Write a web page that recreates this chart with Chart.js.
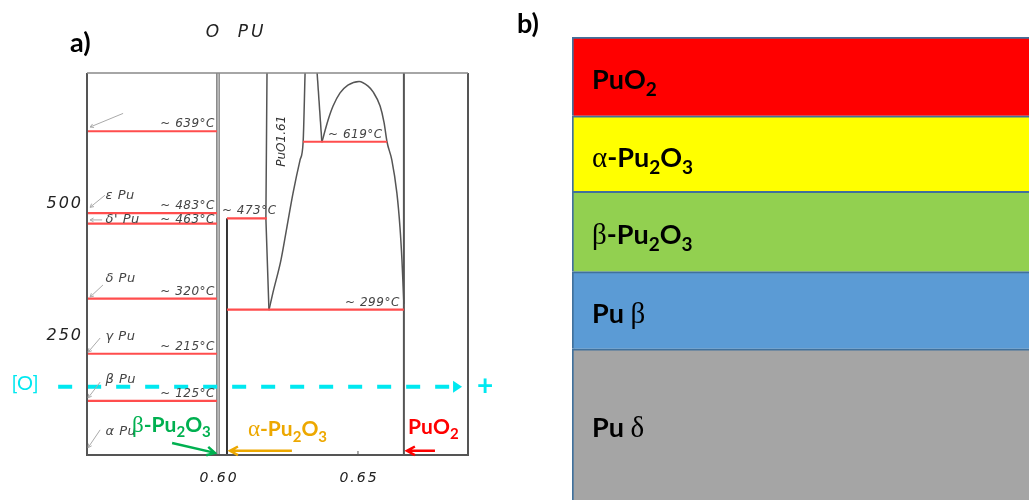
<!DOCTYPE html>
<html>
<head>
<meta charset="utf-8">
<script src="https://cdn.jsdelivr.net/npm/chart.js@4.4.1/dist/chart.umd.min.js"></script>
<style>
    html, body { margin: 0; padding: 0; background: #fff; overflow: hidden; width: 1029px; height: 500px; }
    #phaseWrap { position: absolute; left: 0; top: 0; width: 500px; height: 500px; }
    #layerWrap { position: absolute; left: 500px; top: 0; width: 560px; height: 500px; }
</style>
</head>
<body>
<div id="phaseWrap"><canvas id="phaseChart"></canvas></div>
<div id="layerWrap"><canvas id="layerChart"></canvas></div>
<script>
// ---- a) Pu-O phase diagram (x = O fraction, y = temperature in °C) ----
const compTicks = [0.60, 0.65];
const tempTicks = [250, 500];

// transitions of pure Pu
const puTransitions = [639, 483, 463, 320, 215, 125];
const puTransitionLabels = ['~ 639°C', '~ 483°C', '~ 463°C', '~ 320°C', '~ 215°C', '~ 125°C'];
const puPhases = ['ε Pu', "δ' Pu", 'δ Pu', 'γ Pu', 'β Pu', 'α Pu'];
const puPhaseTemps = [517, 470, 359, 247, 165, 66];

// oxide isotherms
const oxideTemps = [473, 619, 299];
const oxideLabels = ['~ 473°C', '~ 619°C', '~ 299°C'];
const oxideFrom = [0.6032, 0.6304, 0.6032];
const oxideTo = [0.6175, 0.6604, 0.6664];

// phase boundaries
const pu2o3Comp = 0.6;
const puo152Comp = 0.6032;
const puo2Comp = 0.6664;
const vLeftX = [0.6175, 0.6171, 0.6182];
const vLeftT = [750, 473, 298];
const vRightX = [0.6311, 0.6304, 0.6293, 0.6268, 0.6246, 0.6225, 0.6196, 0.6182];
const vRightT = [750, 618, 584, 521, 456, 394, 331, 298];
const cuspX = [0.6354, 0.6371];
const cuspT = [750, 618];
const domeX = [0.6371, 0.6393, 0.6411, 0.6436, 0.6464, 0.6504, 0.6536, 0.6554, 0.6579, 0.6593, 0.6604, 0.6621, 0.6639, 0.6650, 0.6657, 0.6664];
const domeT = [618, 660, 687, 712, 727, 734, 725, 714, 687, 656, 618, 584, 521, 456, 394, 310];

// oxygen path
const oxygenT = 152;
const oxygenFrom = 0.5429;
const oxygenTo = 0.6836;

// ---- b) layer stack (bottom to top) ----
const layerNames = ['Pu δ', 'Pu β', 'β-Pu₂O₃', 'α-Pu₂O₃', 'PuO₂'];
const layerThickness = [1.94, 0.99, 1.03, 0.97, 1.01];
const layerColors = ['#A5A5A5', '#5B9BD5', '#92D050', '#FFFF00', '#FF0000'];

const xMin = 0.5532, xMax = 0.6893, tMin = 22, tMax = 750;
const HAND = '"DejaVu Sans"';

function toPoints(xs, ts) {
    return xs.map((x, i) => ({ x, y: ts[i] }));
}

function seg(points, color, width, extra = {}) {
    return Object.assign({
        data: points, showLine: true, borderColor: color, borderWidth: width,
        pointRadius: 0, fill: false, tension: 0
    }, extra);
}

// text with greek letters in a serif face and subscript digits
function drawRich(ctx, text, x, y, size, color) {
    const subs = { '₂': '2', '₃': '3' };
    ctx.fillStyle = color;
    ctx.textBaseline = 'alphabetic';
    ctx.textAlign = 'left';
    let cx = x;
    for (const ch of text) {
        let t = ch, dy = 0;
        if ('αβγδε'.includes(ch)) {
            ctx.font = `${Math.round(size * 1.08)}px "Liberation Serif"`;
        } else if (subs[ch]) {
            t = subs[ch];
            ctx.font = `bold ${Math.round(size * 0.7)}px Lato`;
            dy = size * 0.26;
        } else {
            ctx.font = `bold ${size}px Lato`;
        }
        ctx.fillText(t, cx, y + dy);
        cx += ctx.measureText(t).width;
    }
}

function arrow(ctx, x1, y1, x2, y2, color, width, head) {
    ctx.strokeStyle = color;
    ctx.lineWidth = width;
    ctx.beginPath();
    ctx.moveTo(x1, y1);
    ctx.lineTo(x2, y2);
    const a = Math.atan2(y2 - y1, x2 - x1);
    ctx.moveTo(x2 - head * Math.cos(a - 0.5), y2 - head * Math.sin(a - 0.5));
    ctx.lineTo(x2, y2);
    ctx.lineTo(x2 - head * Math.cos(a + 0.5), y2 - head * Math.sin(a + 0.5));
    ctx.stroke();
}

// Datasets for the phase diagram
const redLine = '#FF4D4D';
const inkLine = '#555';
const phaseDatasets = [
    seg([{ x: oxygenFrom, y: oxygenT }, { x: oxygenTo, y: oxygenT }], '#00E8F0', 4, { borderDash: [14, 15], clip: false })
];
puTransitions.forEach(t => {
    phaseDatasets.push(seg([{ x: xMin, y: t }, { x: 0.5996, y: t }], redLine, 2.2));
});
oxideTemps.forEach((t, i) => {
    phaseDatasets.push(seg([{ x: oxideFrom[i], y: t }, { x: oxideTo[i], y: t }], redLine, 2.2));
});
phaseDatasets.push(
    seg([{ x: pu2o3Comp - 0.0004, y: tMin }, { x: pu2o3Comp - 0.0004, y: tMax }], '#666', 1.3),
    seg([{ x: pu2o3Comp + 0.0004, y: tMin }, { x: pu2o3Comp + 0.0004, y: tMax }], '#777', 1.3),
    seg([{ x: puo152Comp, y: tMin }, { x: puo152Comp, y: oxideTemps[0] }], '#333', 2),
    seg([{ x: puo2Comp, y: tMin }, { x: puo2Comp, y: tMax }], inkLine, 2),
    seg(toPoints(vLeftX, vLeftT), inkLine, 1.5),
    seg(toPoints(vRightX, vRightT), inkLine, 1.5, { cubicInterpolationMode: 'monotone' }),
    seg(toPoints(cuspX, cuspT), inkLine, 1.5),
    seg(toPoints(domeX, domeT), inkLine, 1.5, { cubicInterpolationMode: 'monotone' })
);

const phaseDecor = {
    id: 'phaseDecor',
    afterDatasetsDraw(chart) {
        const { ctx, chartArea: a, scales: { x: xs, y: ys } } = chart;
        const px = v => xs.getPixelForValue(v);
        const py = v => ys.getPixelForValue(v);
        ctx.save();

        // frame
        ctx.strokeStyle = '#555';
        ctx.lineWidth = 2;
        ctx.beginPath();
        ctx.moveTo(a.left, a.top);
        ctx.lineTo(a.left, a.bottom);
        ctx.lineTo(a.right, a.bottom);
        ctx.lineTo(a.right, a.top);
        ctx.stroke();
        ctx.strokeStyle = '#888';
        ctx.lineWidth = 1.5;
        ctx.beginPath();
        ctx.moveTo(a.left, a.top);
        ctx.lineTo(a.right, a.top);
        ctx.stroke();

        // axis ticks and labels
        ctx.fillStyle = '#222';
        ctx.font = `italic 16px ${HAND}`;
        ctx.letterSpacing = '2px';
        ctx.textAlign = 'right';
        ctx.textBaseline = 'middle';
        tempTicks.forEach(t => ctx.fillText(String(t), a.left - 4, py(t)));
        ctx.font = `italic 14px ${HAND}`;
        ctx.textAlign = 'center';
        compTicks.forEach(c => ctx.fillText(c.toFixed(2), px(c) + 1, a.bottom + 23));
        ctx.strokeStyle = '#555';
        ctx.lineWidth = 1;
        ctx.beginPath();
        ctx.moveTo(px(0.65), a.bottom);
        ctx.lineTo(px(0.65), a.bottom - 4);
        ctx.stroke();

        ctx.font = `italic 17px ${HAND}`;
        ctx.letterSpacing = '3px';
        ctx.fillText('O', 214, 33);
        ctx.fillText('PU', 252, 33);
        ctx.letterSpacing = '0px';

        ctx.font = 'bold 27px Lato';
        ctx.textAlign = 'left';
        ctx.fillStyle = '#000';
        ctx.fillText('a)', 70, 43);

        // Pu transition labels and phase names
        ctx.fillStyle = '#444';
        ctx.font = `italic 12px ${HAND}`;
        ctx.letterSpacing = '0.5px';
        const lift = [7, 7, 4, 7, 7, 7];
        puTransitions.forEach((t, i) => {
            ctx.textAlign = 'right';
            ctx.fillText(puTransitionLabels[i], px(0.5989), py(t) - lift[i]);
        });
        ctx.font = `italic 13px ${HAND}`;
        ctx.textAlign = 'left';
        puPhases.forEach((p, i) => ctx.fillText(p, px(0.5598), py(puPhaseTemps[i])));
        ctx.font = `italic 12px ${HAND}`;
        oxideTemps.forEach((t, i) => {
            const lx = [0.6014, 0.6393, 0.6454][i];
            ctx.fillText(oxideLabels[i], px(lx), py(t) - 7);
        });
        ctx.letterSpacing = '0px';

        // grey pointer arrows to the Pu axis
        const pointers = [
            [0.5661, 673, 0.5543, 647], [0.5596, 517, 0.5543, 494], [0.5586, 470, 0.5543, 470],
            [0.5589, 346, 0.5543, 323], [0.5579, 245, 0.5536, 218], [0.5579, 161, 0.5536, 131],
            [0.5579, 70, 0.5536, 36]
        ];
        pointers.forEach(p => arrow(ctx, px(p[0]), py(p[1]), px(p[2]), py(p[3]), '#aaa', 1, 4));

        // rotated composition label
        ctx.save();
        ctx.translate(px(0.6229), py(620));
        ctx.rotate(-Math.PI / 2);
        ctx.textAlign = 'center';
        ctx.fillStyle = '#333';
        ctx.font = `italic 12px ${HAND}`;
        ctx.fillText('PuO1.61', 0, 0);
        ctx.restore();

        // oxygen path: arrow head, [O] and +
        const oy = py(oxygenT);
        ctx.fillStyle = '#00E8F0';
        ctx.beginPath();
        ctx.moveTo(px(oxygenTo) + 1, oy - 6);
        ctx.lineTo(px(oxygenTo) + 10, oy);
        ctx.lineTo(px(oxygenTo) + 1, oy + 6);
        ctx.closePath();
        ctx.fill();
        ctx.font = '20px Lato';
        ctx.textAlign = 'center';
        ctx.textBaseline = 'middle';
        ctx.fillText('[O]', 25, oy - 3);
        ctx.font = 'bold 28px Lato';
        ctx.fillText('+', 485, oy - 1);

        // phase labels under the diagram
        drawRich(ctx, 'β-Pu₂O₃', px(0.5693), py(66), 21, '#00B050');
        arrow(ctx, px(0.5836), py(45), px(0.5989), py(26), '#00B050', 2.5, 9);
        drawRich(ctx, 'α-Pu₂O₃', px(0.6107), py(58), 21, '#EDA800');
        arrow(ctx, px(0.6264), py(30), px(0.6043), py(30), '#EDA800', 2.5, 9);
        drawRich(ctx, 'PuO₂', px(0.6679), py(62), 21, '#FF0000');
        arrow(ctx, px(0.6775), py(30), px(0.6675), py(30), '#FF0000', 2.5, 9);

        ctx.restore();
    }
};

new Chart(document.getElementById('phaseChart'), {
    type: 'scatter',
    data: { datasets: phaseDatasets },
    options: {
        responsive: true,
        maintainAspectRatio: false,
        animation: false,
        layout: { padding: { left: 87, right: 32, top: 73, bottom: 45 } },
        plugins: { legend: { display: false }, tooltip: { enabled: false } },
        scales: {
            x: { type: 'linear', min: xMin, max: xMax, display: false },
            y: { type: 'linear', min: tMin, max: tMax, display: false }
        }
    },
    plugins: [phaseDecor]
});

// ---- b) stacked layers ----
const layerDecor = {
    id: 'layerDecor',
    afterDatasetsDraw(chart) {
        const { ctx, chartArea: a } = chart;
        ctx.save();
        chart.data.datasets.forEach((ds, i) => {
            const bar = chart.getDatasetMeta(i).data[0];
            const mid = (bar.y + bar.base) / 2;
            drawRich(ctx, layerNames[i], a.left + 20, mid + 13, 27, '#000');
        });
        ctx.font = 'bold 27px Lato';
        ctx.fillStyle = '#000';
        ctx.textAlign = 'left';
        ctx.textBaseline = 'alphabetic';
        ctx.fillText('b)', 17, 33);
        ctx.restore();
    }
};

new Chart(document.getElementById('layerChart'), {
    type: 'bar',
    data: {
        labels: ['stack'],
        datasets: layerNames.map((name, i) => ({
            label: name,
            data: [layerThickness[i]],
            backgroundColor: layerColors[i],
            borderColor: '#41719C',
            borderWidth: { top: 2, left: 2, right: 0, bottom: 0 },
            borderSkipped: false,
            barPercentage: 1,
            categoryPercentage: 1
        }))
    },
    options: {
        responsive: true,
        maintainAspectRatio: false,
        animation: false,
        layout: { padding: { left: 72, right: 0, top: 37, bottom: 0 } },
        plugins: { legend: { display: false }, tooltip: { enabled: false } },
        scales: {
            x: { stacked: true, display: false },
            y: { stacked: true, display: false, min: 0, max: layerThickness.reduce((s, v) => s + v, 0) }
        }
    },
    plugins: [layerDecor]
});
</script>
</body>
</html>
